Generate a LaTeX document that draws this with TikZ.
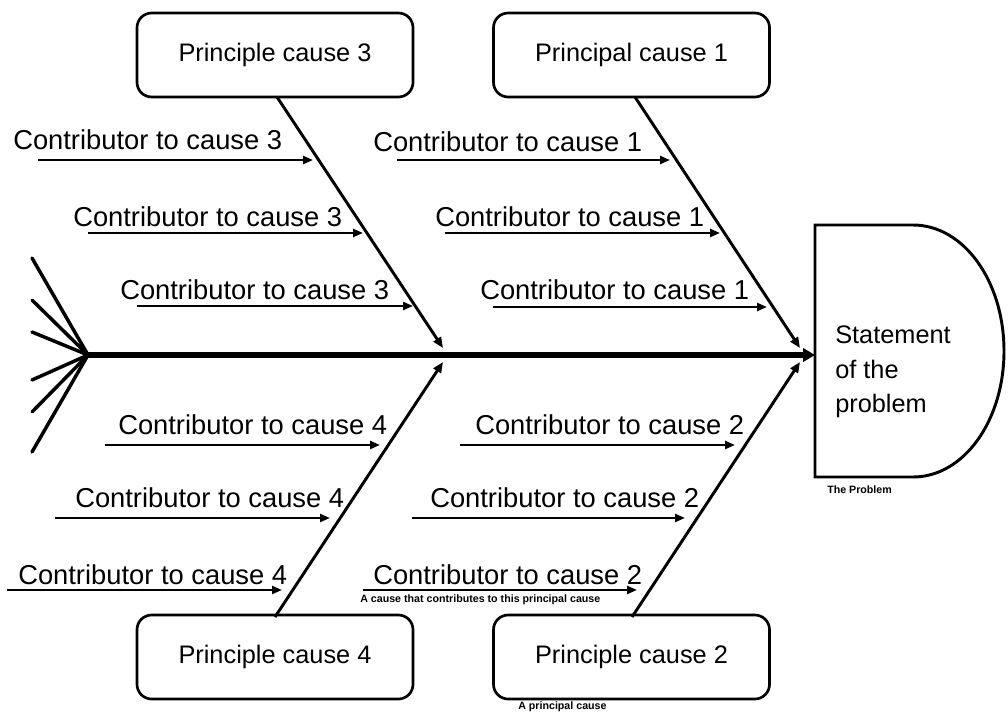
\documentclass[tikz,border=0pt]{standalone}
\usepackage{fontspec}
\setmainfont{Liberation Sans}
\usetikzlibrary{arrows.meta}
\begin{document}
\begin{tikzpicture}[x=0.75pt,y=-0.75pt,
  pbox/.style={draw,line width=2pt,rounded corners=11pt,minimum width=207pt,minimum height=63pt,inner sep=0pt,font=\fontsize{19}{22}\selectfont},
  ctext/.style={anchor=west,inner sep=0pt,font=\fontsize{20.5}{24}\selectfont},
  carrow/.style={line width=1.8pt,-{Triangle[length=7.5pt,width=6pt]}},
  bone/.style={line width=2.2pt,-{Triangle[length=8pt,width=6.5pt]}},
  tailline/.style={line width=2.6pt,line cap=round},
  small/.style={anchor=west,inner sep=0pt,font=\fontsize{8}{9}\selectfont\bfseries}]

\useasboundingbox (0,0) rectangle (1008,715);

% problem head
\draw[line width=2.2pt] (815,225) -- (913,225) .. controls (963.8,225) and (1004,281.4) .. (1004,351)
   .. controls (1004,420.6) and (963.8,477) .. (913,477) -- (815,477) -- cycle;
\node[anchor=west,align=left,inner sep=0pt,font=\fontsize{19}{26}\selectfont] (stmt) at (835,372) {Statement\\of the\\problem};
\node[small] (tp) at (827,490) {The Problem};

% spine
\coordinate (tailpt) at (88,355);
\coordinate (headpt) at (815,355);
\draw[line width=4pt,-{Triangle[length=9pt,width=10pt]}] (tailpt) -- (headpt);

% fish tail
\foreach \yy [count=\i] in {258,300,332,380,412,452}{
  \coordinate (f\i) at (32,\yy);
  \draw[tailline] (tailpt) -- (f\i);
}

% principal causes
\node[pbox] (p3) at (275,55) {Principle cause 3};
\node[pbox] (p1) at (631.5,55) {Principal cause 1};
\node[pbox] (p4) at (275,657) {Principle cause 4};
\node[pbox] (p2) at (631.5,657) {Principle cause 2};

% bones
\coordinate (b3s) at (277,97);  \coordinate (b3e) at (443,348);
\coordinate (b1s) at (635,97);  \coordinate (b1e) at (800,348);
\coordinate (b4s) at (275,617); \coordinate (b4e) at (443,362);
\coordinate (b2s) at (632,617); \coordinate (b2e) at (800,362);
\draw[bone] (b3s) -- (b3e);
\draw[bone] (b1s) -- (b1e);
\draw[bone] (b4s) -- (b4e);
\draw[bone] (b2s) -- (b2e);

% contributors: text x, text y, arrow start x, arrow end x, arrow y, label
\foreach \tx/\ty/\ax/\bx/\ay/\lab/\nm in {
  13/140/38/313/160/3/c3a, 73/217/88/363/233/3/c3b, 120/290/137/413/306/3/c3c,
  373/142/397/670/160/1/c1a, 435/217/445/720/233/1/c1b, 480/290/493/767/307/1/c1c,
  118/425/105/380/445/4/c4a, 75/498/55/330/518/4/c4b, 18/575/7/282/590/4/c4c,
  475/425/460/735/445/2/c2a, 430/498/412/685/518/2/c2b, 373/575/363/637/590/2/c2c}{
  \node[ctext] (\nm t) at (\tx,\ty) {Contributor to cause \lab};
  \coordinate (\nm s) at (\ax,\ay);
  \coordinate (\nm e) at (\bx,\ay);
  \draw[carrow] (\nm s) -- (\nm e);
}

\node[small] (ac) at (360,600) {A cause that contributes to this principal cause};
\node[small] (ap) at (518,707) {A principal cause};
\end{tikzpicture}
\end{document}
